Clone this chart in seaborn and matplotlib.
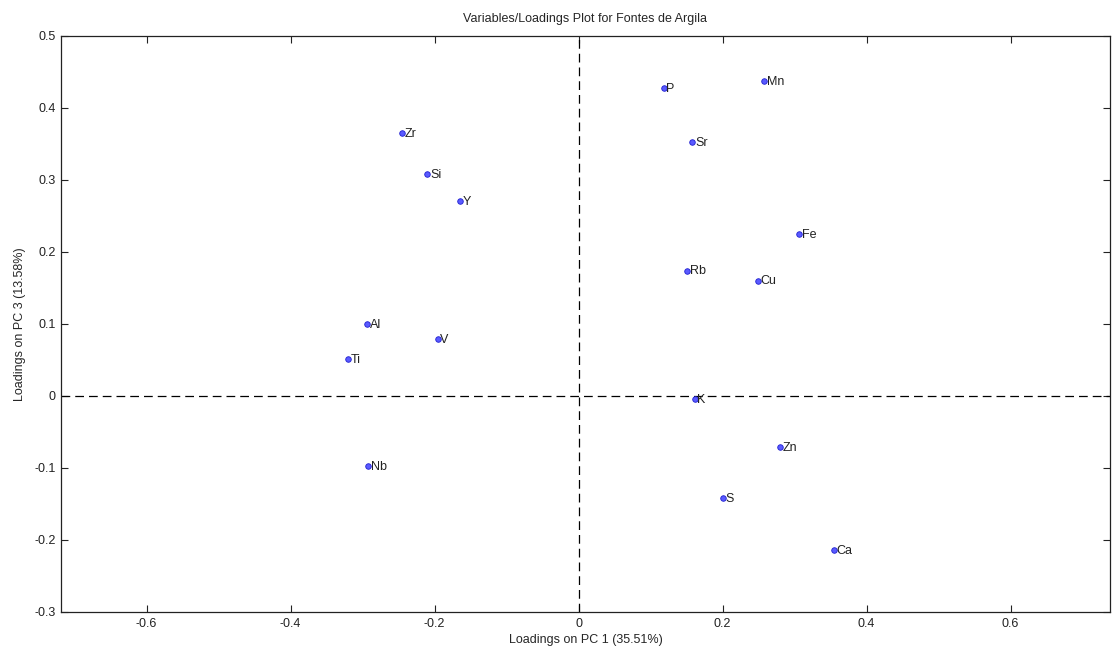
import numpy as np
import pandas as pd
import matplotlib
matplotlib.use('Agg')
import matplotlib.pyplot as plt
import seaborn as sns

# loadings
elements = ['P', 'Mn', 'Sr', 'Zr', 'Si', 'Y', 'Fe', 'Rb', 'Cu',
            'Al', 'V', 'Ti', 'K', 'Zn', 'Nb', 'S', 'Ca']
pc1 = [0.118, 0.258, 0.158, -0.246, -0.210, -0.165, 0.306, 0.151, 0.249,
       -0.294, -0.196, -0.321, 0.161, 0.279, -0.292, 0.200, 0.354]
pc3 = [0.428, 0.437, 0.353, 0.365, 0.308, 0.271, 0.225, 0.174, 0.160,
       0.100, 0.079, 0.051, -0.004, -0.071, -0.097, -0.142, -0.214]
x_ticks = [-0.6, -0.4, -0.2, 0, 0.2, 0.4, 0.6]
y_ticks = [-0.3, -0.2, -0.1, 0, 0.1, 0.2, 0.3, 0.4, 0.5]

df = pd.DataFrame({'Element': elements, 'PC1': pc1, 'PC3': pc3})

sns.set_style('ticks')
plt.rcParams['font.family'] = ['Liberation Sans', 'DejaVu Sans']
fs = 9

fig = plt.figure(figsize=(11.13, 6.53), dpi=100)
ax = fig.add_axes([0.0548, 0.0628, 0.9425, 0.8821])

# dashed zero lines
ax.axvline(0, color='black', linestyle=(0, (7, 4)), linewidth=0.9, zorder=1)
ax.axhline(0, color='black', linestyle=(0, (7, 4)), linewidth=0.9, zorder=1)

sns.scatterplot(x='PC1', y='PC3', data=df, ax=ax, s=16, color='#5a5aff',
                edgecolor='#2020d0', linewidth=0.6, zorder=3, legend=False)

for _, row in df.iterrows():
    ax.annotate(row['Element'], (row['PC1'], row['PC3']), xytext=(2, -0.5),
                textcoords='offset points', ha='left', va='center',
                fontsize=fs, color='#222222')

ax.set_xlim(-0.719, 0.738)
ax.set_ylim(-0.3, 0.5)
ax.set_xticks(x_ticks)
ax.set_yticks(y_ticks)
ax.set_xticklabels(['-0.6', '-0.4', '-0.2', '0', '0.2', '0.4', '0.6'])
ax.set_yticklabels(['-0.3', '-0.2', '-0.1', '0', '0.1', '0.2', '0.3', '0.4', '0.5'])
ax.tick_params(direction='in', top=True, right=True, length=5, width=0.8,
               labelsize=fs, colors='#222222', pad=4)
for sp in ax.spines.values():
    sp.set_linewidth(0.9)
    sp.set_color('#222222')

ax.set_title('Variables/Loadings Plot for Fontes de Argila', fontsize=fs, pad=10)
ax.set_xlabel('Loadings on PC 1 (35.51%)', fontsize=fs, labelpad=3)
ax.set_ylabel('Loadings on PC 3 (13.58%)', fontsize=fs, labelpad=6)

plt.savefig('out.png', dpi=100)
